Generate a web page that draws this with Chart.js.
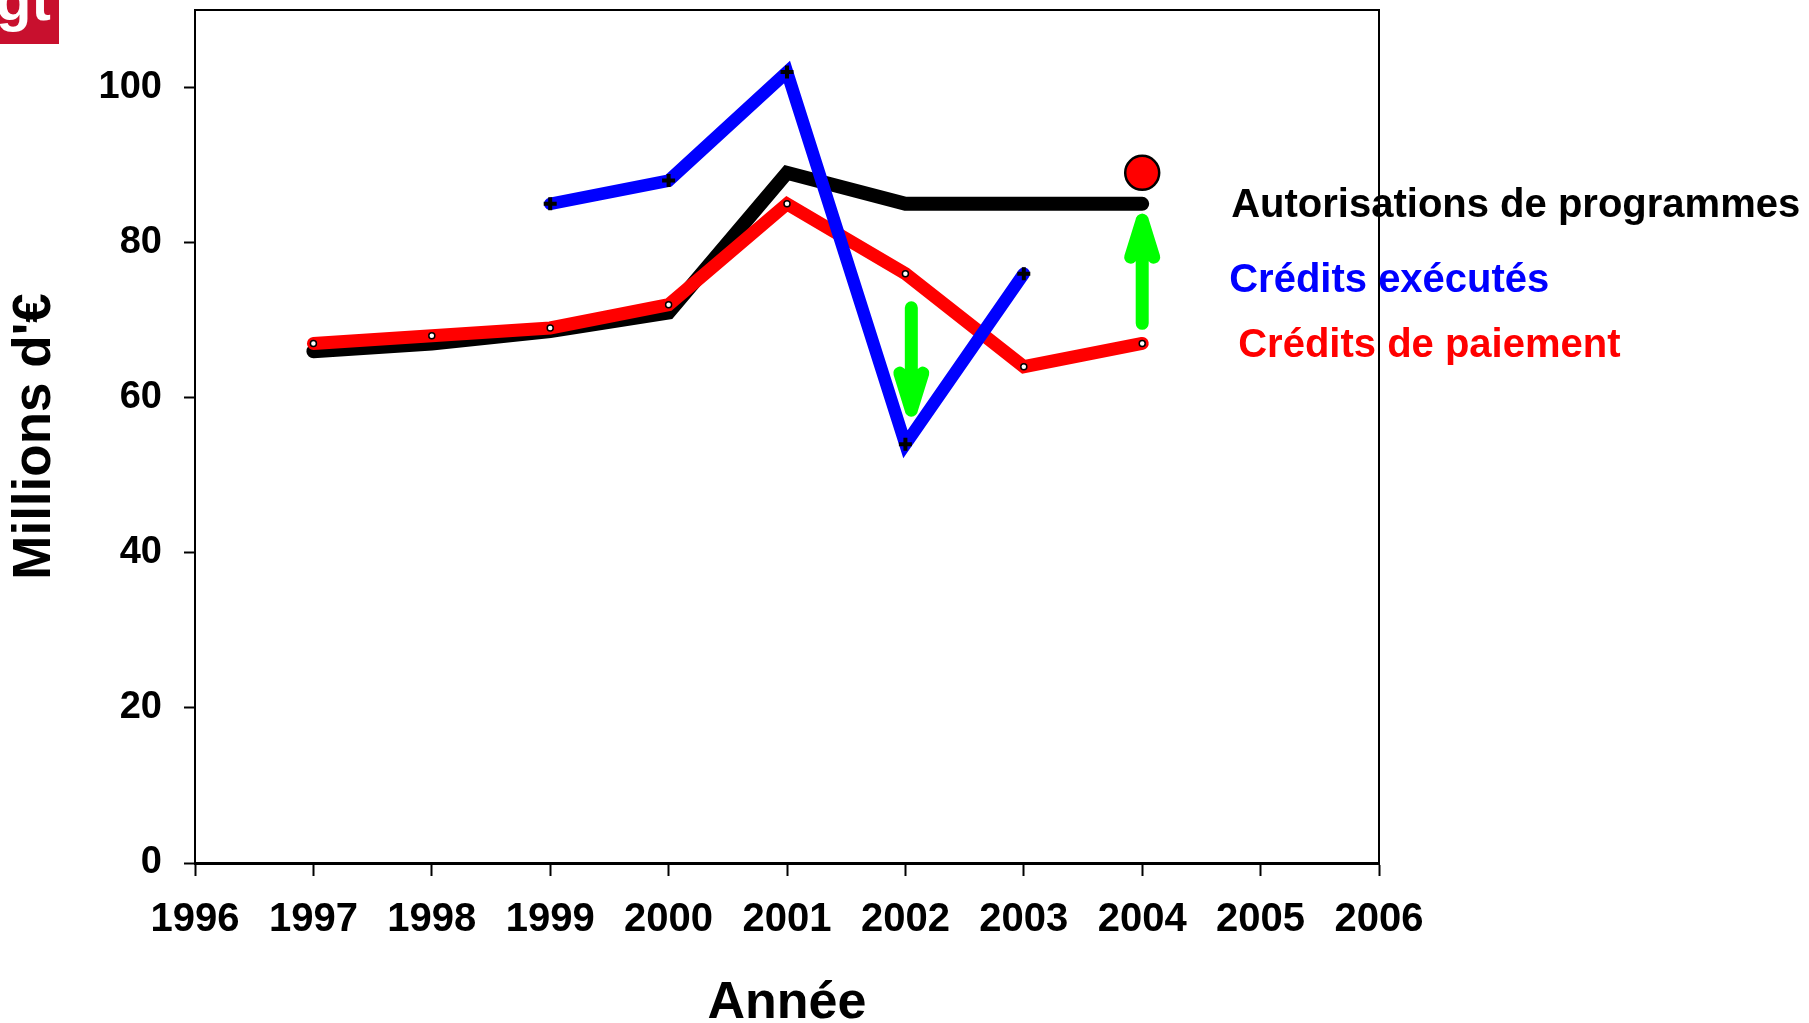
<!DOCTYPE html>
<html>
<head>
<meta charset="utf-8">
<script src="https://cdn.jsdelivr.net/npm/chart.js@4/dist/chart.umd.min.js"></script>
<style>
  html, body { margin: 0; padding: 0; background: #fff; }
  #wrap { position: relative; width: 1809px; height: 1023px; overflow: hidden; }
  canvas { position: absolute; left: 0; top: 0; }
  #logo { position: absolute; left: 0; top: 0; width: 59px; height: 44px; background: #c8102e; overflow: hidden; }
  #logo span { position: absolute; left: -4px; top: -29px; font: bold 58px "Liberation Sans", Arial, sans-serif; line-height: 58px; color: #fff; }
</style>
</head>
<body>
<div id="wrap">
  <canvas id="chart" width="1809" height="1023"></canvas>
  <div id="logo"><span>gt</span></div>
</div>
<script>
// Budget series, in millions of euros, per year
const years = [1997, 1998, 1999, 2000, 2001, 2002, 2003, 2004];
const autorisations = [66, 67, 68.6, 71, 89, 85, 85, 85];
const paiement = [67, 68, 69, 72, 85, 76, 64, 67];
const executes = [null, null, 85, 88, 102, 54, 76, null];

// Target marker for 2004
const targetYears = [2004];
const targetValues = [89];

// Green arrows: year, start value, end value
const arrowYears = [2002.05, 2004];
const arrowFrom = [71.6, 69.6];
const arrowTo = [58.4, 82.9];

// Axis ticks
const xTicks = [1996, 1997, 1998, 1999, 2000, 2001, 2002, 2003, 2004, 2005, 2006];
const yTicks = [0, 20, 40, 60, 80, 100];

const seriesNames = ['Autorisations de programmes', 'Crédits exécutés', 'Crédits de paiement'];

const FONT = '"Liberation Sans", Arial, Helvetica, sans-serif';
const toPoints = (vals) => years.map((yr, i) => ({ x: yr, y: vals[i] }));

const annotations = {
  id: 'annotations',
  beforeDatasetsDraw(chart) {
    // top and right edges of the plot frame
    const { ctx, chartArea: a } = chart;
    ctx.save();
    ctx.strokeStyle = '#000';
    ctx.lineWidth = 2;
    ctx.beginPath();
    ctx.moveTo(a.left, a.top);
    ctx.lineTo(a.right, a.top);
    ctx.lineTo(a.right, a.bottom);
    ctx.stroke();
    ctx.restore();
  },
  afterDatasetsDraw(chart) {
    const { ctx } = chart;
    const xs = chart.scales.x, ys = chart.scales.y;
    ctx.save();
    ctx.strokeStyle = '#00ff00';
    ctx.lineWidth = 13;
    ctx.lineCap = 'round';
    ctx.lineJoin = 'round';
    arrowYears.forEach((yr, i) => {
      const px = xs.getPixelForValue(yr);
      const y0 = ys.getPixelForValue(arrowFrom[i]);
      const y1 = ys.getPixelForValue(arrowTo[i]);
      const dir = Math.sign(y1 - y0);
      ctx.beginPath();
      ctx.moveTo(px, y0);
      ctx.lineTo(px, y1);
      ctx.moveTo(px - 11.5, y1 - dir * 37);
      ctx.lineTo(px, y1);
      ctx.lineTo(px + 11.5, y1 - dir * 37);
      ctx.stroke();
    });
    ctx.restore();
  },
  afterDraw(chart) {
    const { ctx, chartArea: area } = chart;
    const xs = chart.scales.x, ys = chart.scales.y;
    ctx.save();

    // value labels of the vertical axis
    ctx.font = 'bold 38px ' + FONT;
    ctx.fillStyle = '#000';
    ctx.textAlign = 'right';
    ctx.textBaseline = 'middle';
    yTicks.forEach(v => ctx.fillText(String(v), area.left - 33, ys.getPixelForValue(v)));

    // series names next to the end of each line
    const lastYear = years[years.length - 1];
    const anchors = [
      { value: autorisations[7], color: '#000000', dx: 89, dy: 2 },
      { value: executes[6], color: '#0000ff', dx: 87, dy: 7.3 },
      { value: paiement[7], color: '#ff0000', dx: 96, dy: 2.6 }
    ];
    ctx.font = 'bold 40px ' + FONT;
    ctx.textAlign = 'left';
    anchors.forEach((a, i) => {
      ctx.fillStyle = a.color;
      ctx.fillText(seriesNames[i], xs.getPixelForValue(lastYear) + a.dx, ys.getPixelForValue(a.value) + a.dy);
    });
    ctx.restore();
  }
};

new Chart(document.getElementById('chart'), {
  type: 'line',
  data: {
    datasets: [
      {
        label: 'Objectif',
        data: targetYears.map((yr, i) => ({ x: yr, y: targetValues[i] })),
        showLine: false,
        pointRadius: 17,
        pointBackgroundColor: '#ff0000',
        pointBorderColor: '#000',
        pointBorderWidth: 2.5,
        order: 0
      },
      {
        label: seriesNames[1],
        data: toPoints(executes),
        borderColor: '#0000ff',
        borderWidth: 12.5,
        borderCapStyle: 'round',
        borderJoinStyle: 'miter',
        pointStyle: 'cross',
        pointRadius: 6.5,
        pointBorderWidth: 4,
        pointBorderColor: '#000',
        pointBackgroundColor: '#000',
        order: 1
      },
      {
        label: seriesNames[2],
        data: toPoints(paiement),
        borderColor: '#ff0000',
        borderWidth: 13,
        borderCapStyle: 'round',
        borderJoinStyle: 'miter',
        pointRadius: 3,
        pointBorderWidth: 1.5,
        pointBorderColor: '#000',
        pointBackgroundColor: '#fff',
        order: 2
      },
      {
        label: seriesNames[0],
        data: toPoints(autorisations),
        borderColor: '#000',
        borderWidth: 14,
        borderCapStyle: 'round',
        borderJoinStyle: 'miter',
        pointRadius: 4,
        pointBorderWidth: 1,
        pointBorderColor: '#000',
        pointBackgroundColor: '#000',
        order: 3
      }
    ]
  },
  options: {
    responsive: false,
    animation: false,
    events: [],
    layout: { autoPadding: false, padding: { left: 0, top: 10, right: 430, bottom: 0 } },
    plugins: { legend: { display: false }, tooltip: { enabled: false } },
    scales: {
      x: {
        type: 'linear',
        min: 1996,
        max: 2006,
        afterBuildTicks(s) { s.ticks = xTicks.map(v => ({ value: v })); },
        afterFit(s) { s.height = 160; },
        ticks: {
          callback: (v) => String(v),
          autoSkip: false,
          maxRotation: 0,
          padding: 20,
          color: '#000',
          font: { family: FONT, size: 40, weight: 'bold' }
        },
        grid: { drawOnChartArea: false, drawTicks: true, tickLength: 13, tickWidth: 2, color: '#000' },
        border: { display: true, color: '#000', width: 3 },
        title: {
          display: true,
          text: 'Année',
          color: '#000',
          font: { family: FONT, size: 52, weight: 'bold', lineHeight: 0.7 },
          padding: { top: 0, bottom: 1 }
        }
      },
      y: {
        type: 'linear',
        min: 0,
        max: 110,
        afterBuildTicks(s) { s.ticks = yTicks.map(v => ({ value: v })); },
        afterFit(s) { s.width = 195; },
        ticks: { display: false },
        grid: { drawOnChartArea: false, drawTicks: true, tickLength: 11, tickWidth: 2, color: '#000' },
        border: { display: true, color: '#000', width: 2 },
        title: {
          display: true,
          text: "Millions d'€",
          color: '#000',
          font: { family: FONT, size: 53, weight: 'bold', lineHeight: 1.2 },
          padding: { top: 4, bottom: 0 }
        }
      }
    }
  },
  plugins: [annotations]
});
</script>
</body>
</html>
